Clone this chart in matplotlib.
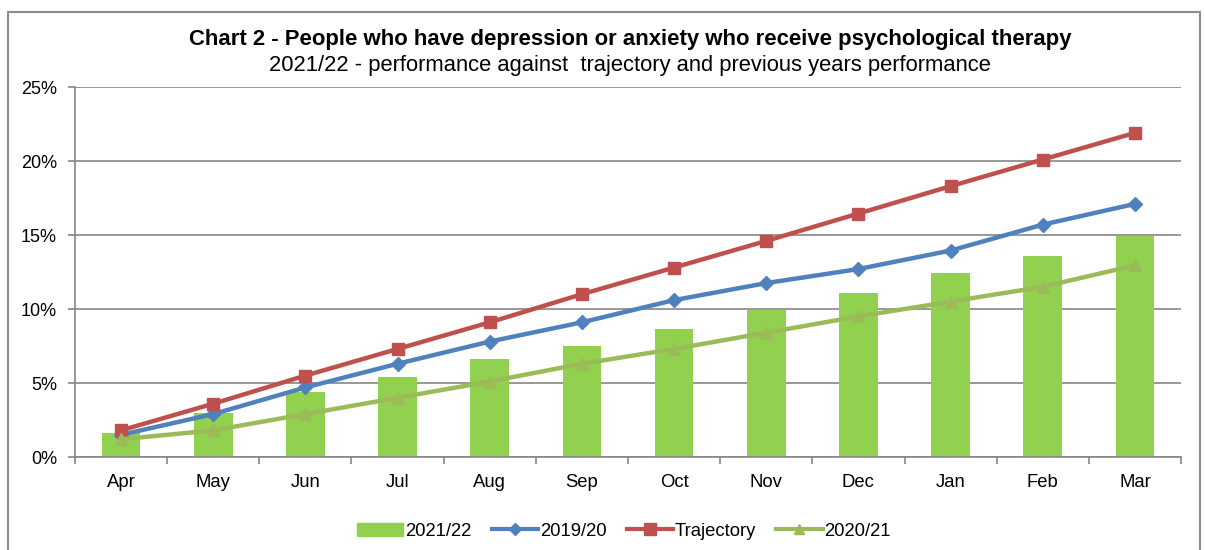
import matplotlib
matplotlib.use("Agg")
import matplotlib.pyplot as plt
from matplotlib.lines import Line2D
from matplotlib.patches import Rectangle
import numpy as np

plt.rcParams['font.family'] = ['Liberation Sans', 'DejaVu Sans']

months = ['Apr', 'May', 'Jun', 'Jul', 'Aug', 'Sep', 'Oct', 'Nov', 'Dec', 'Jan', 'Feb', 'Mar']
perf_2122 = [1.6, 3.0, 4.4, 5.4, 6.6, 7.5, 8.65, 9.9, 11.05, 12.4, 13.6, 14.9]
perf_1920 = [1.5, 2.9, 4.7, 6.3, 7.8, 9.1, 10.6, 11.75, 12.7, 13.95, 15.7, 17.1]
trajectory = [1.8, 3.6, 5.5, 7.3, 9.1, 11.0, 12.8, 14.6, 16.45, 18.3, 20.1, 21.9]
perf_2021 = [1.2, 1.8, 2.9, 4.0, 5.1, 6.3, 7.3, 8.4, 9.5, 10.5, 11.5, 12.95]

fig = plt.figure(figsize=(12.05, 5.5), dpi=100)
ax = fig.add_axes([75/1205, 1-457/550, (1181-75)/1205, (457-87)/550])

x = np.arange(len(months))
grid_c = '#868686'
ax.bar(x, perf_2122, width=0.42, color='#92D050', zorder=2, label='2021/22')
ax.plot(x, perf_1920, color='#4F81BD', lw=3.2, marker='D', ms=7, zorder=3, label='2019/20')
ax.plot(x, trajectory, color='#C0504D', lw=3.2, marker='s', ms=9, zorder=3, label='Trajectory')
ax.plot(x, perf_2021, color='#9BBB59', lw=3.2, marker='^', ms=9, zorder=3, label='2020/21')

ax.set_xlim(-0.5, 11.5)
ax.set_ylim(0, 25)
ax.set_yticks(range(0, 26, 5))
ax.set_yticklabels([f'{v}%' for v in range(0, 26, 5)])
ax.yaxis.grid(True, color=grid_c, lw=1.2, zorder=0)
ax.set_axisbelow(True)
ax.set_xticks(x)
ax.set_xticklabels(months)
ax.set_xticks(np.arange(-0.5, 12, 1), minor=True)
ax.tick_params(axis='x', which='major', length=0, pad=12, labelsize=13.3)
ax.tick_params(axis='x', which='minor', length=5, color=grid_c, width=1.2)
ax.tick_params(axis='y', length=5, color=grid_c, width=1.2, labelsize=13, pad=8)
for s in ['top', 'right']:
    ax.spines[s].set_visible(False)
for s in ['left', 'bottom']:
    ax.spines[s].set_color(grid_c)
    ax.spines[s].set_linewidth(1.2)

fig.text(630/1205, 1-40/550, 'Chart 2 - People who have depression or anxiety who receive psychological therapy',
         ha='center', va='center', fontsize=15.9, fontweight='bold')
fig.text(630/1205, 1-65/550, '2021/22 - performance against  trajectory and previous years performance',
         ha='center', va='center', fontsize=15.8)

handles = [Rectangle((0, 0), 1, 1, color='#92D050'),
           Line2D([], [], color='#4F81BD', lw=3, marker='D', ms=6),
           Line2D([], [], color='#C0504D', lw=3, marker='s', ms=8),
           Line2D([], [], color='#9BBB59', lw=3, marker='^', ms=7)]
fig.legend(handles, ['2021/22', '2019/20', 'Trajectory', '2020/21'], loc='center',
           bbox_to_anchor=(624/1205, 1-531/550), ncol=4, frameon=False, fontsize=13.3,
           handlelength=2.5, handletextpad=0.1, columnspacing=1.1)

fig.add_artist(Rectangle((8/1205, -0.05), 1192/1205, 1.05-12/550, transform=fig.transFigure,
                         fill=False, edgecolor='#8c8c8c', lw=1.5))

fig.savefig('out.png', dpi=100)
